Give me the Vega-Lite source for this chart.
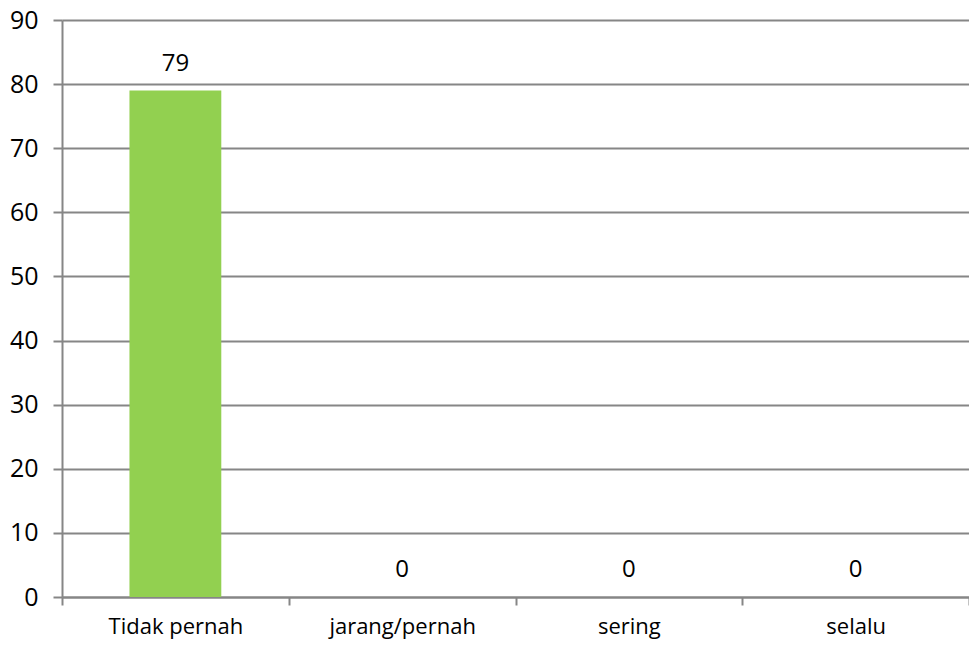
{
  "$schema": "https://vega.github.io/schema/vega-lite/v6.json",
  "width": 907,
  "height": 577,
  "autosize": {"type": "none"},
  "padding": {"left": 62, "top": 20, "right": 0, "bottom": 49},
  "background": "white",
  "config": {
    "view": {"stroke": null, "fill": "white"},
    "font": "Open Sans"
  },
  "data": {
    "values": [
      {"kategori": "Tidak pernah", "jumlah": 79},
      {"kategori": "jarang/pernah", "jumlah": 0},
      {"kategori": "sering", "jumlah": 0},
      {"kategori": "selalu", "jumlah": 0}
    ]
  },
  "encoding": {
    "x": {
      "field": "kategori",
      "type": "nominal",
      "sort": null,
      "scale": {"paddingInner": 0, "paddingOuter": 0},
      "axis": {
        "title": null,
        "labelAngle": 0,
        "labelFontSize": 22,
        "labelColor": "#000000",
        "labelPadding": 11,
        "tickBand": "extent",
        "tickSize": 8,
        "tickColor": "#868686",
        "tickWidth": 2,
        "domainColor": "#868686",
        "domainWidth": 2,
        "grid": false
      }
    },
    "y": {
      "field": "jumlah",
      "type": "quantitative",
      "scale": {"domain": [0, 90], "nice": false},
      "axis": {
        "title": null,
        "values": [0, 10, 20, 30, 40, 50, 60, 70, 80, 90],
        "labelFontSize": 25,
        "labelColor": "#000000",
        "labelPadding": 15,
        "tickSize": 9,
        "tickColor": "#868686",
        "tickWidth": 2,
        "domainColor": "#868686",
        "domainWidth": 2,
        "grid": true,
        "gridColor": "#868686",
        "gridWidth": 2
      }
    }
  },
  "layer": [
    {
      "mark": {"type": "bar", "color": "#92D050", "width": {"band": 0.405}}
    },
    {
      "mark": {"type": "text", "fontSize": 24, "color": "#000000", "dy": -27, "baseline": "middle"},
      "encoding": {"text": {"field": "jumlah", "type": "quantitative"}}
    }
  ]
}
